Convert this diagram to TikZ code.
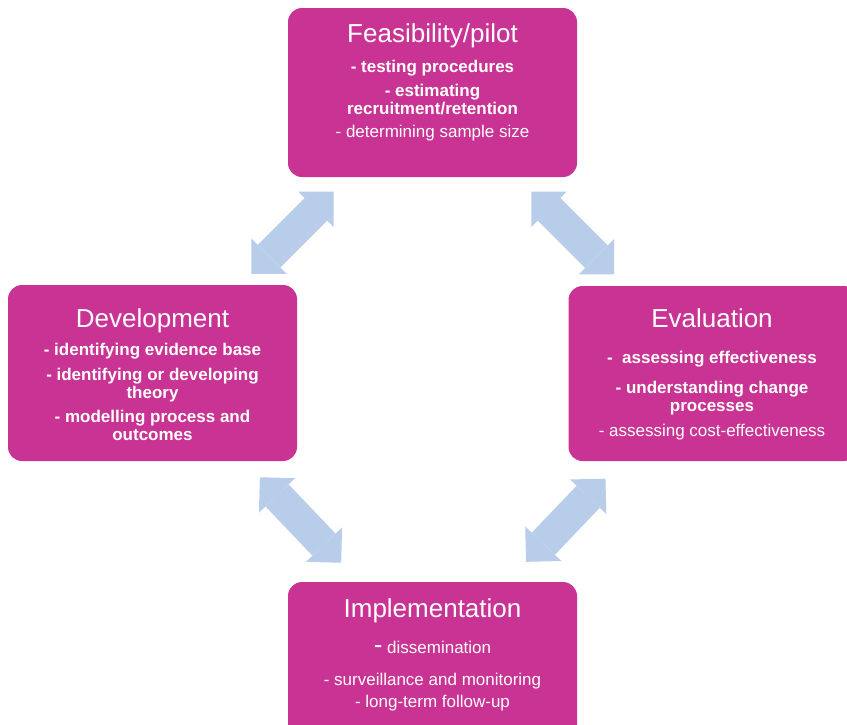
\documentclass[tikz,border=0pt]{standalone}
\usepackage{fontspec}
\setmainfont{Liberation Sans}
\usetikzlibrary{arrows.meta}
\definecolor{stagepink}{RGB}{201,51,147}
\definecolor{linkblue}{RGB}{184,205,233}
\tikzset{
  stage/.style={fill=stagepink,rounded corners=7pt,inner sep=0pt,minimum width=144.5pt},
  stagetitle/.style={text=white,anchor=base,inner sep=0pt,font=\fontsize{13}{15}\selectfont},
  stagebody/.style={text=white,anchor=base,inner sep=0pt,font=\fontsize{8.5}{9}\selectfont},
  twoway/.style={draw=linkblue,line width=16pt,
    {Triangle[width=25pt,length=12.5pt,line width=0pt]}-{Triangle[width=25pt,length=12.5pt,line width=0pt]},
    shorten <=70pt,shorten >=70pt}
}
\begin{document}
\begin{tikzpicture}[x=0.5pt,y=-0.5pt]
  \useasboundingbox (0,0) rectangle (847,724);
  \clip (0,0) rectangle (847,724);
  %Feasibility/pilot
  \node[stage,minimum height=84.5pt] (feas) at (432.5,92.5) {};
  \node[stagetitle] (feasT) at (432.5,42) {Feasibility/pilot};
  \node[stagebody] (feasB) at (432.5,72) {\begin{tabular}[t]{@{}c@{}}
    \textbf{- testing procedures}\\[3pt]
    \textbf{- estimating}\\
    \textbf{recruitment/retention}\\[2.5pt]
    - determining sample size
  \end{tabular}};
  %Development
  \node[stage,minimum height=88pt] (dev) at (152.5,373) {};
  \node[stagetitle] (devT) at (152.5,327) {Development};
  \node[stagebody] (devB) at (152.5,355) {\begin{tabular}[t]{@{}c@{}}
    \textbf{- identifying evidence base}\\[3.5pt]
    \textbf{- identifying or developing}\\
    \textbf{theory}\\[3pt]
    \textbf{- modelling process and}\\
    \textbf{outcomes}
  \end{tabular}};
  %Evaluation
  \node[stage,minimum height=87.5pt] (eval) at (713,373.5) {};
  \node[stagetitle] (evalT) at (712,327) {Evaluation};
  \node[stagebody] (evalB) at (712,363) {\begin{tabular}[t]{@{}c@{}}
    \textbf{-~ assessing effectiveness}\\[6pt]
    \textbf{- understanding change}\\
    \textbf{processes}\\[3.5pt]
    - assessing cost-effectiveness
  \end{tabular}};
  %Implementation
  \node[stage,minimum height=85pt] (impl) at (432.5,667) {};
  \node[stagetitle] (implT) at (432.5,617) {Implementation};
  \node[stagebody] (implB) at (432.5,653) {\begin{tabular}[t]{@{}c@{}}
    {\fontsize{13}{9}\selectfont -} dissemination\\[7pt]
    - surveillance and monitoring\\[2pt]
    - long-term follow-up
  \end{tabular}};
  %links
  \draw[twoway] (feas.center) -- (dev.center);
  \draw[twoway] (feas.center) -- (eval.center);
  \draw[twoway,shorten <=72pt,shorten >=72pt] ([xshift=4pt]dev.center) -- ([xshift=4pt]impl.center);
  \draw[twoway,shorten <=72.75pt,shorten >=72.75pt] ([xshift=-3.5pt]eval.center) -- ([xshift=-3.5pt]impl.center);
\end{tikzpicture}
\end{document}
